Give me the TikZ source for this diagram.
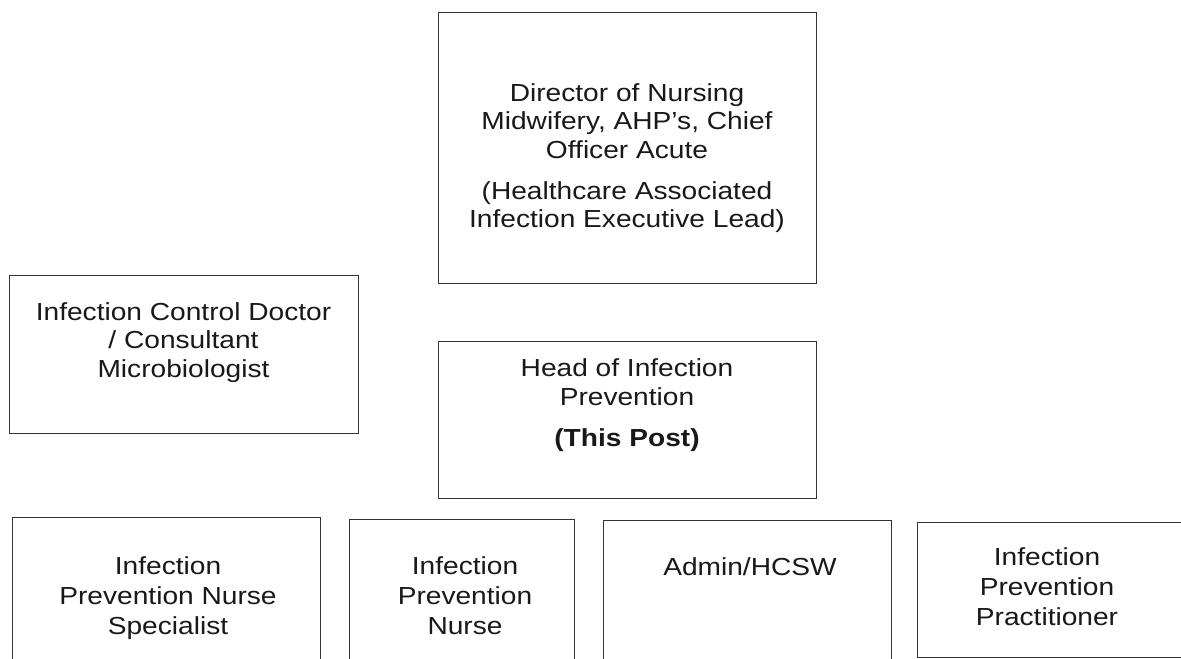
\documentclass[tikz,border=0pt]{standalone}
\usepackage{fontspec}
\setmainfont{Liberation Sans}[FakeStretch=1.14]
\usetikzlibrary{positioning}

\begin{document}
\begin{tikzpicture}[x=0.75pt, y=-0.75pt,
    box/.style={draw=black!80, line width=1.1pt, inner sep=0pt, anchor=north west},
    lbl/.style={align=center, anchor=north, inner sep=0pt, text=black!90,
                font=\fontsize{18.5}{21.5}\selectfont},
    rowlbl/.style={lbl, font=\fontsize{18.5}{22.5}\selectfont}]
  \clip (0,0) rectangle (1181,659);
  % top: director and the two posts under it
  \node[box, minimum width=283.5pt, minimum height=203.25pt] (dir) at (438,12) {};
  \node[box, minimum width=261.75pt, minimum height=118.5pt] (icd) at (9,275) {};
  \node[box, minimum width=283.5pt, minimum height=117.75pt] (head) at (438,341) {};
  % bottom row, runs off the page
  \node[box, minimum width=231pt, minimum height=150pt] (ipns) at (12,517) {};
  \node[box, minimum width=168.75pt, minimum height=150pt] (ipn) at (349,519) {};
  \node[box, minimum width=216pt, minimum height=150pt] (admin) at (603,520) {};
  \node[box, minimum width=240pt, minimum height=101.25pt] (ipp) at (917,522) {};

  \node[lbl] (dirtxt) at (627,83) {Director of Nursing\\Midwifery, AHP's, Chief\\Officer Acute\\[9pt]
    (Healthcare Associated\\Infection Executive Lead)};
  \node[lbl] (icdtxt) at (183.5,302) {Infection Control Doctor\\/ Consultant\\Microbiologist};
  \node[lbl, font=\fontsize{18.5}{22}\selectfont] (headtxt) at (627,358)
    {Head of Infection\\Prevention\\[9pt]\textbf{(This Post)}};
  \node[rowlbl] (ipnstxt) at (168,556) {Infection\\Prevention Nurse\\Specialist};
  \node[rowlbl] (ipntxt) at (465,556) {Infection\\Prevention\\Nurse};
  \node[rowlbl] (admintxt) at (750,557) {Admin/HCSW};
  \node[rowlbl] (ipptxt) at (1047,547) {Infection\\Prevention\\Practitioner};
\end{tikzpicture}
\end{document}
